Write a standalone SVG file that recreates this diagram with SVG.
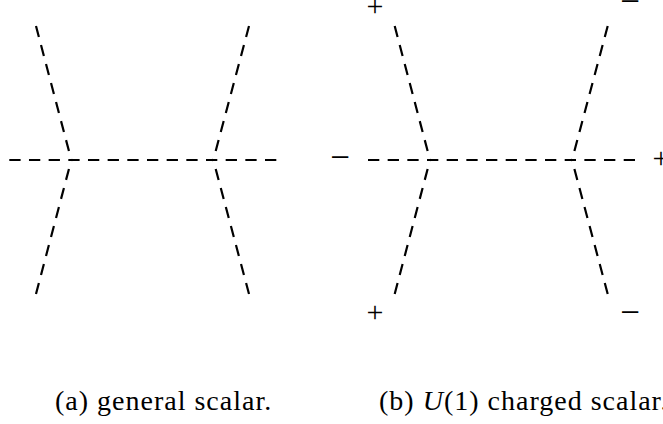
<svg xmlns="http://www.w3.org/2000/svg" width="663" height="424" viewBox="0 0 663 424">
<style>
.d{fill:none;stroke:#000;stroke-width:2.2;stroke-dasharray:11.3 8.37;stroke-linecap:butt}
.s{font-family:"Liberation Serif",serif;font-size:30px;text-anchor:middle;fill:#000}
.m{font-family:"Liberation Serif",serif;font-size:35px;text-anchor:middle;fill:#000}
.c{font-family:"Liberation Serif",serif;font-size:28px;letter-spacing:1px;fill:#000}
</style>
<rect width="663" height="424" fill="#fff"/>
<g id="connectors">
<g id="diagram-a">
<path class="d" d="M9.3,160 L277,160"/>
<path class="d" d="M36,26 L71.3,160"/>
<path class="d" d="M36,294 L71.3,160"/>
<path class="d" d="M249,26 L213.3,160"/>
<path class="d" d="M249,294 L213.3,160"/>
</g>
<g id="diagram-b" transform="translate(358.7,0)">
<path class="d" d="M9.3,160 L277,160"/>
<path class="d" d="M36,26 L71.3,160"/>
<path class="d" d="M36,294 L71.3,160"/>
<path class="d" d="M249,26 L213.3,160"/>
<path class="d" d="M249,294 L213.3,160"/>
</g>
</g>
<g id="signs">
<text class="s" x="375" y="16">+</text>
<text class="m" x="630" y="13">−</text>
<text class="m" x="340" y="169">−</text>
<text class="s" x="661" y="168">+</text>
<text class="s" x="375" y="322">+</text>
<text class="m" x="630" y="324">−</text>
</g>
<g id="captions">
<text class="c" x="55" y="410">(a) general scalar.</text>
<text class="c" x="379" y="410">(b) <tspan font-style="italic">U</tspan>(1) charged scalar.</text>
</g>
</svg>
